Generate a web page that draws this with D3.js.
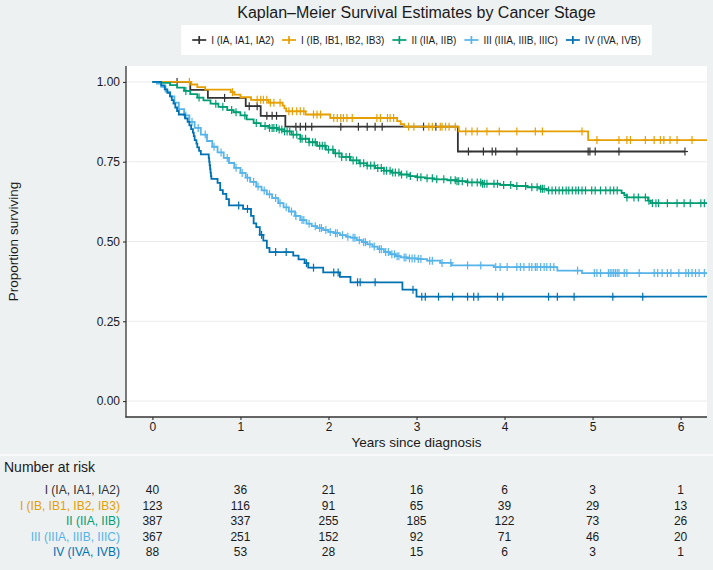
<!DOCTYPE html>
<html><head><meta charset="utf-8">
<script src="https://cdn.jsdelivr.net/npm/d3@7"></script>
<style>
body{margin:0;background:#EDF1F2;}
svg{display:block;font-family:"Liberation Sans",Arial,Helvetica,sans-serif;}
</style>
</head><body>
<svg id="chart" width="713" height="570"></svg>
<script>
// ---------------- DATA ----------------
const chartTitle = "Kaplan\u2013Meier Survival Estimates by Cancer Stage";
const stageLabels = ["I (IA, IA1, IA2)", "I (IB, IB1, IB2, IB3)", "II (IIA, IIB)", "III (IIIA, IIIB, IIIC)", "IV (IVA, IVB)"];
const stageColors = ["#333333", "#E69F00", "#009E73", "#56B4E9", "#0072B2"];
const xTicks = [0, 1, 2, 3, 4, 5, 6];
const yTicks = [0, 0.25, 0.5, 0.75, 1];
const riskTimes = [0, 1, 2, 3, 4, 5, 6];

const riskI_A = [40, 36, 21, 16, 6, 3, 1];
const riskI_B = [123, 116, 91, 65, 39, 29, 13];
const riskII  = [387, 337, 255, 185, 122, 73, 26];
const riskIII = [367, 251, 152, 92, 71, 46, 20];
const riskIV  = [88, 53, 28, 15, 6, 3, 1];

// event times (years) and survival after each event
const timeI_A = [0.43, 0.63, 1.06, 1.23, 1.51, 3.47];
const survI_A = [0.975, 0.950, 0.924, 0.894, 0.860, 0.782];
const censI_A = [0.28, 0.82, 1.10, 1.19, 1.30, 1.36, 1.41, 1.63, 1.68, 1.74, 1.81, 2.14, 2.34, 2.44, 2.53, 2.61, 3.08, 3.22, 3.59, 3.76, 3.86, 3.90, 4.14, 4.95, 4.97, 5.03, 5.30, 6.05];
const endI_A = 6.05;

const timeI_B = [0.44, 0.51, 0.60, 0.89, 0.93, 1.00, 1.12, 1.32, 1.48, 1.50, 1.52, 1.74, 2.02, 2.78, 2.82, 2.86, 3.48, 4.95];
const survI_B = [0.992, 0.984, 0.976, 0.968, 0.960, 0.952, 0.944, 0.935, 0.926, 0.917, 0.908, 0.898, 0.887, 0.877, 0.868, 0.860, 0.845, 0.818];
const censI_B = [0.42, 0.91, 1.19, 1.23, 1.26, 1.30, 1.34, 1.38, 1.45, 1.55, 1.59, 1.64, 1.68, 1.72, 1.83, 1.87, 1.91, 2.06, 2.10, 2.14, 2.17, 2.21, 2.27, 2.55, 2.59, 2.67, 2.70, 2.74, 2.91, 2.97, 3.14, 3.18, 3.27, 3.29, 3.33, 3.37, 3.44, 3.56, 3.63, 3.69, 3.80, 3.94, 4.14, 4.35, 4.43, 4.88, 5.05, 5.30, 5.39, 5.43, 5.60, 5.70, 5.77, 5.81, 5.88, 5.96, 6.13];
const endI_B = 6.3;

const timeII = [0.10, 0.20, 0.28, 0.36, 0.43, 0.51, 0.58, 0.66, 0.75, 0.85, 0.92, 1.00, 1.07, 1.15, 1.23, 1.33, 1.42, 1.50, 1.58, 1.68, 1.78, 1.87, 1.97, 2.06, 2.15, 2.25, 2.35, 2.44, 2.53, 2.63, 2.72, 2.82, 2.92, 3.01, 3.10, 3.20, 3.35, 3.46, 3.58, 3.75, 3.95, 4.10, 4.26, 4.41, 4.48, 5.33, 5.36, 5.39, 5.63, 5.66];
const survII = [0.997, 0.990, 0.982, 0.972, 0.962, 0.951, 0.942, 0.932, 0.922, 0.912, 0.905, 0.895, 0.883, 0.871, 0.862, 0.856, 0.851, 0.845, 0.835, 0.822, 0.811, 0.800, 0.788, 0.776, 0.765, 0.754, 0.745, 0.738, 0.730, 0.722, 0.716, 0.710, 0.705, 0.701, 0.698, 0.695, 0.692, 0.689, 0.685, 0.681, 0.677, 0.674, 0.670, 0.665, 0.660, 0.652, 0.645, 0.638, 0.628, 0.620];
const censII = [0.38, 0.53, 0.72, 0.80, 0.90, 0.95, 1.05, 1.18, 1.28, 1.33, 1.36, 1.38, 1.41, 1.44, 1.47, 1.50, 1.53, 1.56, 1.60, 1.64, 1.68, 1.70, 1.74, 1.78, 1.82, 1.85, 1.90, 1.93, 1.96, 2.00, 2.05, 2.08, 2.12, 2.15, 2.20, 2.24, 2.28, 2.32, 2.36, 2.40, 2.44, 2.48, 2.52, 2.56, 2.60, 2.63, 2.66, 2.70, 2.73, 2.76, 2.80, 2.83, 2.89, 2.93, 3.01, 3.05, 3.12, 3.18, 3.23, 3.31, 3.39, 3.44, 3.46, 3.48, 3.52, 3.58, 3.63, 3.69, 3.73, 3.75, 3.77, 3.80, 3.88, 3.92, 3.99, 4.07, 4.14, 4.24, 4.31, 4.37, 4.41, 4.43, 4.45, 4.50, 4.54, 4.58, 4.62, 4.66, 4.70, 4.73, 4.77, 4.81, 4.84, 4.88, 4.92, 4.99, 5.03, 5.09, 5.15, 5.20, 5.24, 5.28, 5.39, 5.47, 5.52, 5.60, 5.64, 5.68, 5.72, 5.75, 5.85, 5.96, 6.04, 6.11, 6.23, 6.27];
const endII = 6.3;

const timeIII = [0.05, 0.10, 0.15, 0.20, 0.25, 0.30, 0.36, 0.42, 0.48, 0.55, 0.62, 0.68, 0.74, 0.81, 0.87, 0.93, 1.00, 1.06, 1.11, 1.18, 1.24, 1.30, 1.36, 1.43, 1.49, 1.55, 1.62, 1.68, 1.75, 1.81, 1.87, 1.94, 2.00, 2.06, 2.13, 2.20, 2.25, 2.32, 2.38, 2.44, 2.50, 2.56, 2.63, 2.70, 2.76, 2.82, 2.90, 3.01, 3.12, 3.27, 3.40, 3.88, 4.60, 4.88];
const survIII = [0.995, 0.985, 0.970, 0.955, 0.935, 0.915, 0.895, 0.875, 0.856, 0.835, 0.815, 0.797, 0.779, 0.762, 0.746, 0.731, 0.715, 0.700, 0.687, 0.672, 0.660, 0.648, 0.636, 0.620, 0.607, 0.594, 0.580, 0.567, 0.556, 0.548, 0.542, 0.536, 0.530, 0.526, 0.520, 0.515, 0.512, 0.504, 0.498, 0.491, 0.484, 0.476, 0.467, 0.460, 0.454, 0.450, 0.447, 0.445, 0.440, 0.433, 0.425, 0.420, 0.409, 0.401];
const censIII = [0.38, 0.45, 0.52, 0.60, 0.70, 0.78, 0.85, 0.95, 1.02, 1.08, 1.15, 1.20, 1.27, 1.33, 1.40, 1.45, 1.52, 1.58, 1.63, 1.70, 1.72, 1.78, 1.85, 1.90, 1.92, 1.97, 2.02, 2.08, 2.10, 2.16, 2.22, 2.28, 2.30, 2.35, 2.40, 2.42, 2.47, 2.52, 2.58, 2.60, 2.65, 2.68, 2.72, 2.75, 2.78, 2.80, 2.86, 2.88, 2.92, 2.95, 2.98, 3.02, 3.05, 3.15, 3.18, 3.29, 3.39, 3.58, 3.73, 3.90, 3.95, 4.03, 4.14, 4.18, 4.22, 4.28, 4.31, 4.35, 4.37, 4.41, 4.45, 4.48, 4.52, 4.56, 4.83, 5.02, 5.05, 5.09, 5.18, 5.20, 5.22, 5.24, 5.26, 5.28, 5.30, 5.36, 5.39, 5.53, 5.70, 5.74, 5.79, 5.85, 5.89, 5.98, 6.06, 6.09, 6.13, 6.17, 6.21, 6.27];
const endIII = 6.3;

const timeIV = [0.10, 0.14, 0.17, 0.20, 0.22, 0.24, 0.26, 0.28, 0.30, 0.37, 0.40, 0.42, 0.44, 0.46, 0.47, 0.48, 0.50, 0.51, 0.53, 0.55, 0.64, 0.645, 0.65, 0.655, 0.66, 0.665, 0.67, 0.74, 0.77, 0.80, 0.84, 0.87, 1.03, 1.12, 1.15, 1.18, 1.22, 1.26, 1.30, 1.33, 1.60, 1.66, 1.73, 1.77, 1.94, 2.13, 2.25, 2.84, 3.00];
const survIV = [0.989, 0.977, 0.966, 0.955, 0.943, 0.932, 0.920, 0.909, 0.898, 0.886, 0.875, 0.864, 0.852, 0.841, 0.830, 0.818, 0.807, 0.795, 0.784, 0.773, 0.761, 0.750, 0.739, 0.727, 0.716, 0.705, 0.696, 0.684, 0.661, 0.649, 0.633, 0.613, 0.602, 0.580, 0.557, 0.545, 0.521, 0.503, 0.480, 0.467, 0.456, 0.444, 0.432, 0.418, 0.403, 0.389, 0.372, 0.349, 0.327];
const censIV = [0.98, 1.08, 1.24, 1.40, 1.52, 1.75, 1.83, 2.06, 2.11, 2.33, 2.36, 2.53, 2.96, 3.06, 3.10, 3.25, 3.41, 3.58, 3.65, 3.70, 3.92, 3.98, 4.50, 4.60, 4.79, 5.23, 5.57];
const endIV = 6.3;

// ---------------- BUILD ----------------
const curves = [
  {times: timeI_A, surv: survI_A, cens: censI_A, end: endI_A, risk: riskI_A},
  {times: timeI_B, surv: survI_B, cens: censI_B, end: endI_B, risk: riskI_B},
  {times: timeII,  surv: survII,  cens: censII,  end: endII,  risk: riskII},
  {times: timeIII, surv: survIII, cens: censIII, end: endIII, risk: riskIII},
  {times: timeIV,  surv: survIV,  cens: censIV,  end: endIV,  risk: riskIV}
].map((c, i) => Object.assign(c, {label: stageLabels[i], color: stageColors[i]}));

const svg = d3.select("#chart");
const W = 713, H = 570;
const panel = {left: 126, right: 707, top: 66, bottom: 417};
const textCol = "#1a1a1a";

svg.append("rect").attr("width", W).attr("height", H).attr("fill", "#EDF1F2");

const x = d3.scaleLinear().domain([-0.3, 6.3]).range([panel.left, panel.right]);
const y = d3.scaleLinear().domain([-0.05, 1.05]).range([panel.bottom, panel.top]);

// panel
svg.append("rect").attr("x", panel.left).attr("y", panel.top)
  .attr("width", panel.right - panel.left).attr("height", panel.bottom - panel.top)
  .attr("fill", "#ffffff");

// gridlines
svg.append("g").selectAll("line").data(yTicks).join("line")
  .attr("x1", panel.left).attr("x2", panel.right)
  .attr("y1", d => y(d)).attr("y2", d => y(d))
  .attr("stroke", "#EBEBEB").attr("stroke-width", 1);

// title
svg.append("text").attr("x", (panel.left + panel.right) / 2).attr("y", 18)
  .attr("text-anchor", "middle").attr("font-size", 16).attr("fill", textCol)
  .text(chartTitle);

// legend
const leg = svg.append("g");
const legBg = leg.append("rect").attr("fill", "#ffffff");
let lx = 0;
curves.forEach((c, i) => {
  const g = leg.append("g");
  g.append("line").attr("x1", 0).attr("x2", 14).attr("y1", 0).attr("y2", 0)
    .attr("stroke", c.color).attr("stroke-width", 1.7);
  g.append("line").attr("x1", 7).attr("x2", 7).attr("y1", -4).attr("y2", 4)
    .attr("stroke", c.color).attr("stroke-width", 1.7);
  const t = g.append("text").attr("x", 19).attr("y", 3.6).attr("font-size", 10)
    .attr("fill", textCol).text(c.label);
  const w = 19 + t.node().getComputedTextLength();
  g.attr("transform", `translate(${lx},0)`);
  lx += w + 8;
});
const legW = lx - 8;
const legPad = 11;
legBg.attr("x", -legPad).attr("y", -15).attr("width", legW + 2 * legPad).attr("height", 30);
leg.attr("transform", `translate(${(panel.left + panel.right) / 2 - legW / 2},40)`);

// curves
const clipId = "clipPanel";
svg.append("clipPath").attr("id", clipId).append("rect")
  .attr("x", panel.left).attr("y", panel.top)
  .attr("width", panel.right - panel.left).attr("height", panel.bottom - panel.top);
const plotG = svg.append("g").attr("clip-path", `url(#${clipId})`);

const line = d3.line().x(d => x(d[0])).y(d => y(d[1])).curve(d3.curveStepAfter);

function survAt(c, t) {
  let s = 1;
  for (let k = 0; k < c.times.length; k++) { if (c.times[k] <= t) s = c.surv[k]; }
  return s;
}

curves.forEach(c => {
  const pts = [[0, 1]].concat(c.times.map((t, k) => [t, c.surv[k]]));
  pts.push([c.end, c.surv[c.surv.length - 1]]);
  plotG.append("path").datum(pts).attr("d", line)
    .attr("fill", "none").attr("stroke", c.color).attr("stroke-width", 1.8);
  const cg = plotG.append("g").attr("stroke", c.color).attr("stroke-width", 1.2);
  c.cens.forEach(t => {
    const cx = x(t), cy = y(survAt(c, t));
    cg.append("line").attr("x1", cx).attr("x2", cx).attr("y1", cy - 4).attr("y2", cy + 4);
    cg.append("line").attr("x1", cx - 3).attr("x2", cx + 3).attr("y1", cy).attr("y2", cy);
  });
});

// axes
const axisCol = "#333333";
const yAxis = svg.append("g").attr("transform", `translate(${panel.left},0)`)
  .call(d3.axisLeft(y).tickValues(yTicks).tickFormat(d3.format(".2f")).tickSize(3).tickPadding(3));
const xAxis = svg.append("g").attr("transform", `translate(0,${panel.bottom})`)
  .call(d3.axisBottom(x).tickValues(xTicks).tickFormat(d3.format("d")).tickSize(3).tickPadding(2));
[yAxis, xAxis].forEach(a => {
  a.select(".domain").remove();
  a.selectAll(".tick line").attr("stroke", axisCol).attr("stroke-width", 1.1);
  a.selectAll(".tick text").attr("fill", textCol).attr("font-size", 12)
    .attr("font-family", '"Liberation Sans",Arial,sans-serif');
});
svg.append("line").attr("x1", panel.left).attr("x2", panel.left)
  .attr("y1", panel.top).attr("y2", panel.bottom + 0.5)
  .attr("stroke", axisCol).attr("stroke-width", 1.3);
svg.append("line").attr("x1", panel.left - 0.5).attr("x2", panel.right)
  .attr("y1", panel.bottom).attr("y2", panel.bottom)
  .attr("stroke", axisCol).attr("stroke-width", 1.3);

// axis titles
svg.append("text").attr("x", (panel.left + panel.right) / 2).attr("y", 447)
  .attr("text-anchor", "middle").attr("font-size", 13.5).attr("fill", textCol)
  .text("Years since diagnosis");
svg.append("text").attr("transform", `translate(18,${(panel.top + panel.bottom) / 2}) rotate(-90)`)
  .attr("text-anchor", "middle").attr("font-size", 13.5).attr("fill", textCol)
  .text("Proportion surviving");

// separator
svg.append("line").attr("x1", 0).attr("x2", W).attr("y1", 455).attr("y2", 455)
  .attr("stroke", "#ffffff").attr("stroke-width", 1.5).attr("opacity", 0.8);

// risk table
svg.append("text").attr("x", 4).attr("y", 472).attr("font-size", 14).attr("fill", textCol)
  .text("Number at risk");
const rowY = d3.scalePoint().domain(stageLabels).range([490, 552]);
curves.forEach(c => {
  const ry = rowY(c.label);
  svg.append("text").attr("x", 120).attr("y", ry).attr("dy", "0.35em")
    .attr("text-anchor", "end").attr("font-size", 12).attr("fill", c.color).text(c.label);
  svg.append("g").selectAll("text").data(riskTimes).join("text")
    .attr("x", t => x(t)).attr("y", ry).attr("dy", "0.35em")
    .attr("text-anchor", "middle").attr("font-size", 12).attr("fill", textCol)
    .text((t, k) => c.risk[k]);
});
</script>
</body></html>
